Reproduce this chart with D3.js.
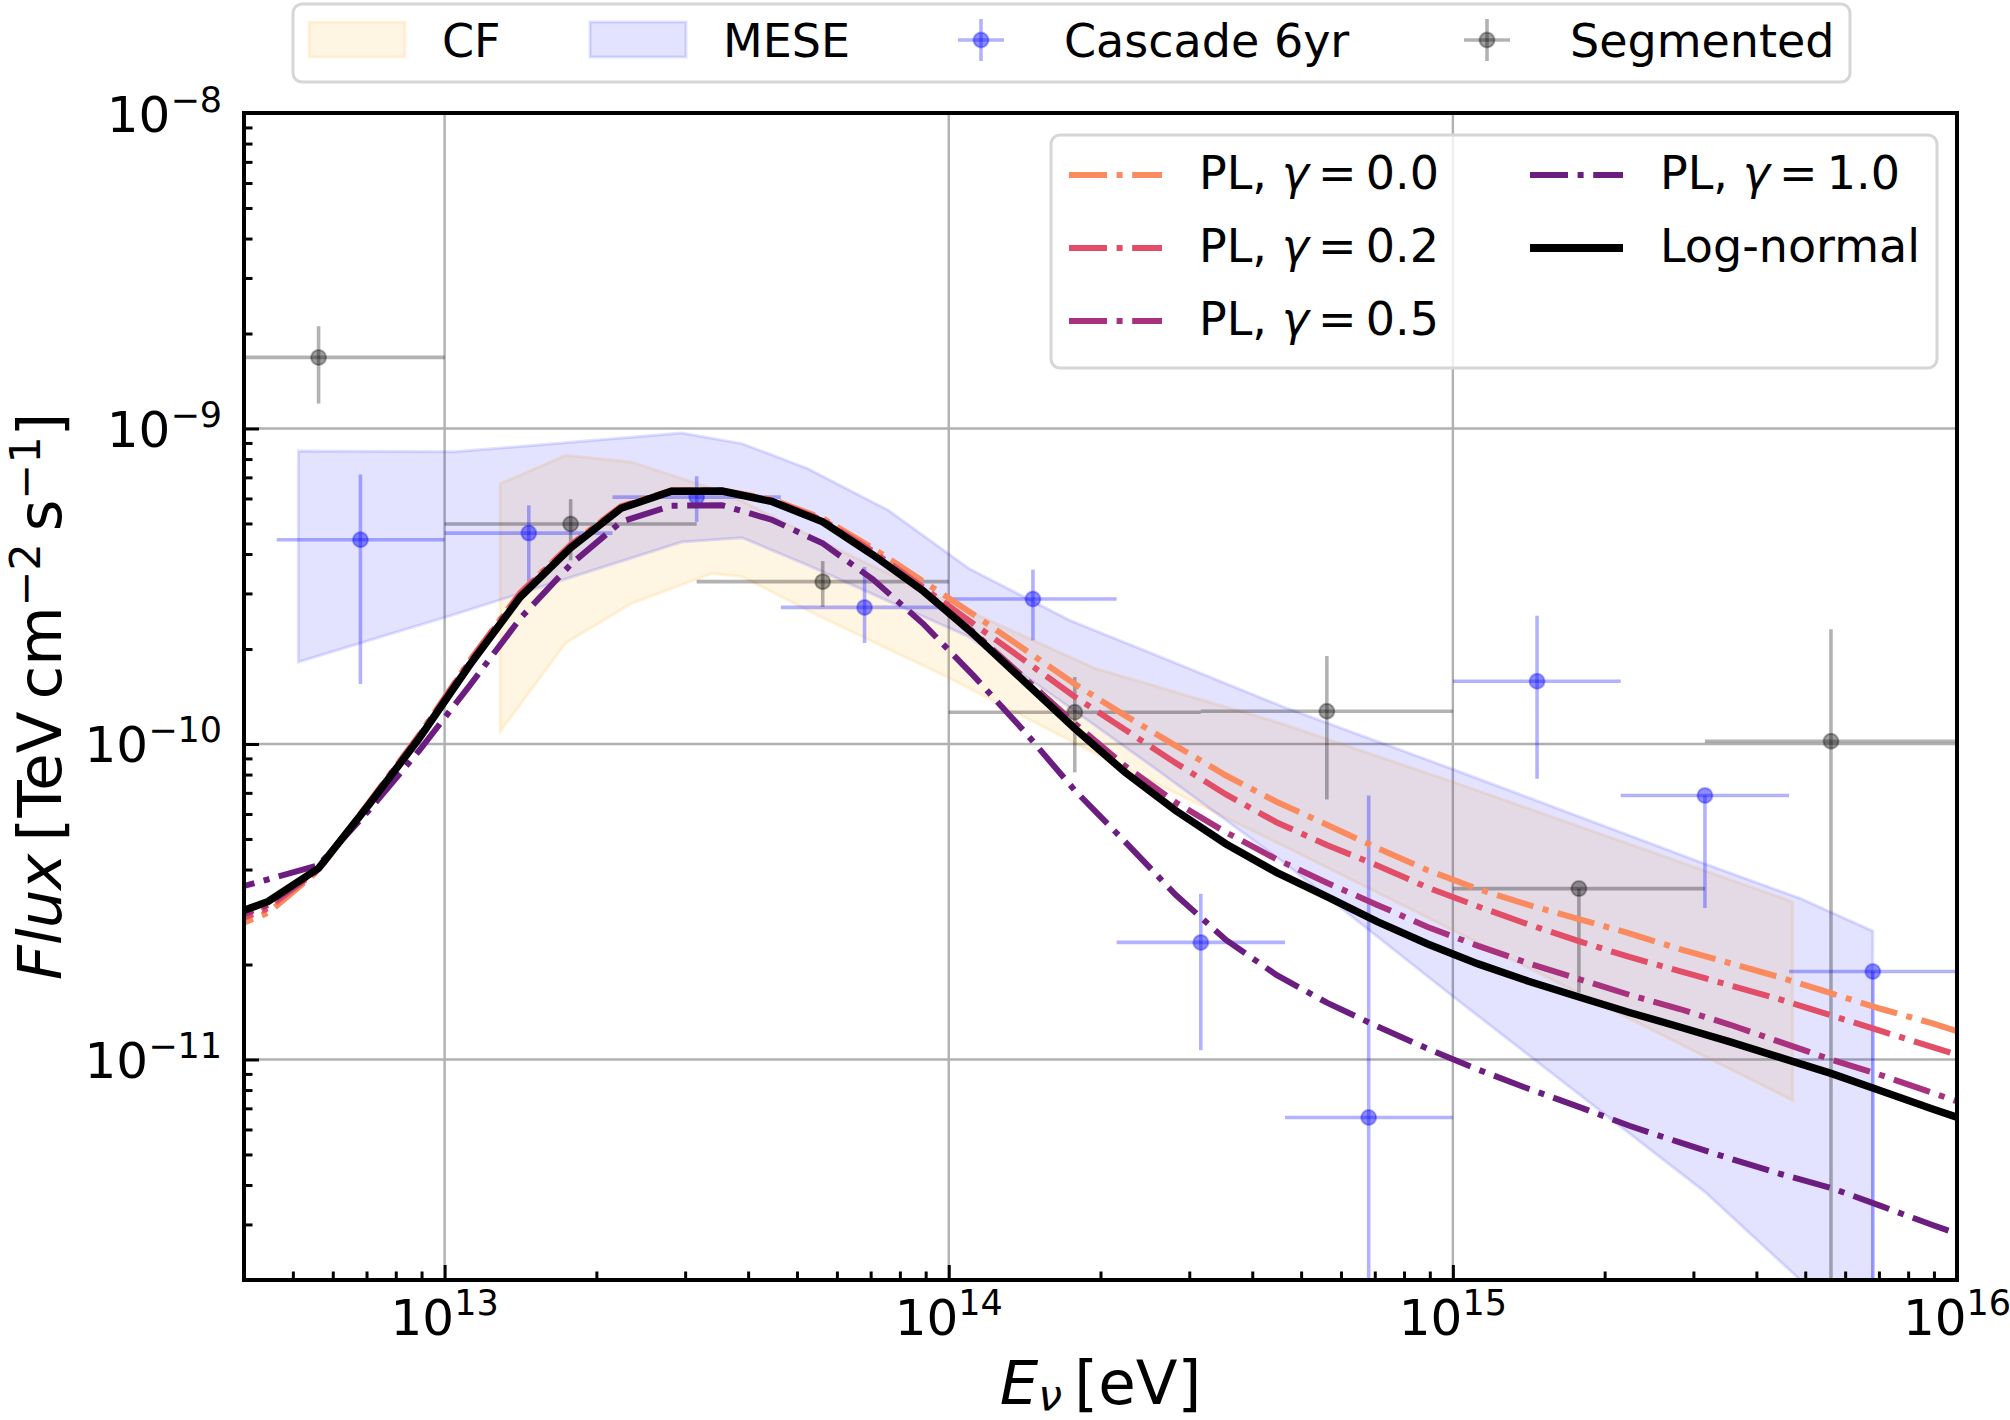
<!DOCTYPE html>
<html>
<head>
<meta charset="utf-8">
<script src="https://cdn.jsdelivr.net/npm/d3@7"></script>
<style>
  body { margin: 0; background: #fff; }
  svg { display: block; font-family: "DejaVu Sans", sans-serif; }
</style>
</head>
<body>
<svg id="chart" width="2010" height="1420"></svg>
<script>
// model curves: log10(E / eV) grid and log10 flux
const modelLogE = [12.55, 12.65, 12.75, 12.85, 12.95, 13.05, 13.15, 13.25, 13.35, 13.45, 13.55, 13.65,
  13.75, 13.85, 13.95, 14.05, 14.15, 14.25, 14.35, 14.45, 14.55, 14.65, 14.75, 14.85,
  14.95, 15.05, 15.15, 15.25, 15.35, 15.45, 15.55, 15.65, 15.75, 15.85, 15.95, 16.05];
const logNormal = [-10.558, -10.499, -10.394, -10.192, -9.981, -9.749, -9.534, -9.378, -9.253, -9.199, -9.198, -9.232,
  -9.296, -9.401, -9.516, -9.653, -9.802, -9.951, -10.090, -10.211, -10.317, -10.407, -10.484, -10.563,
  -10.634, -10.697, -10.752, -10.802, -10.851, -10.897, -10.944, -10.994, -11.044, -11.100, -11.156, -11.210];
const pl00 = [-10.600, -10.535, -10.400, -10.185, -9.970, -9.735, -9.520, -9.368, -9.246, -9.196, -9.196, -9.225,
  -9.285, -9.380, -9.485, -9.590, -9.700, -9.810, -9.910, -10.005, -10.100, -10.183, -10.256, -10.330,
  -10.400, -10.460, -10.510, -10.555, -10.600, -10.650, -10.695, -10.740, -10.790, -10.840, -10.885, -10.935];
const pl02 = [-10.585, -10.520, -10.398, -10.187, -9.973, -9.738, -9.523, -9.370, -9.248, -9.197, -9.197, -9.228,
  -9.290, -9.390, -9.505, -9.620, -9.735, -9.850, -9.955, -10.060, -10.160, -10.248, -10.320, -10.385,
  -10.455, -10.515, -10.572, -10.625, -10.675, -10.720, -10.765, -10.810, -10.860, -10.910, -10.960, -11.010];
const pl05 = [-10.570, -10.510, -10.395, -10.190, -9.978, -9.745, -9.530, -9.375, -9.251, -9.199, -9.198, -9.232,
  -9.296, -9.400, -9.513, -9.647, -9.790, -9.935, -10.070, -10.185, -10.280, -10.365, -10.440, -10.510,
  -10.580, -10.640, -10.695, -10.745, -10.795, -10.840, -10.890, -10.945, -11.000, -11.050, -11.105, -11.160];
const pl10 = [-10.473, -10.429, -10.384, -10.210, -10.020, -9.814, -9.602, -9.431, -9.296, -9.245, -9.243, -9.290,
  -9.364, -9.479, -9.620, -9.785, -9.960, -10.147, -10.310, -10.478, -10.621, -10.732, -10.820, -10.895,
  -10.966, -11.032, -11.093, -11.150, -11.210, -11.263, -11.314, -11.363, -11.407, -11.465, -11.524, -11.580];

// bands (log10 E, log10 flux upper / lower)
const cfLogE = [13.11, 13.24, 13.37, 13.53, 13.59, 13.75, 14.0, 14.29, 14.66, 15.0, 15.674];
const cfUpper = [-9.175, -9.085, -9.106, -9.19, -9.23, -9.36, -9.55, -9.76, -9.935, -10.12, -10.50];
const cfLower = [-9.961, -9.68, -9.555, -9.46, -9.47, -9.60, -9.79, -10.03, -10.32, -10.59, -11.13];
const meseLogE = [12.71, 13.02, 13.47, 13.59, 13.72, 13.88, 14.04, 14.24, 14.42, 14.66, 15.0, 15.5, 15.69, 15.833];
const meseUpper = [-9.071, -9.074, -9.014, -9.048, -9.127, -9.259, -9.444, -9.608, -9.724, -9.88, -10.08, -10.38, -10.49, -10.593];
const meseLower = [-9.740, -9.589, -9.360, -9.346, -9.433, -9.547, -9.66, -9.884, -10.09, -10.37, -10.80, -11.42, -11.70, -11.89];

// data points
const cascadeLogE = [12.833, 13.167, 13.5, 13.833, 14.167, 14.5, 14.833, 15.167, 15.5, 15.833];
const cascadeBinLo = [12.667, 13.0, 13.333, 13.667, 14.0, 14.333, 14.667, 15.0, 15.333, 15.667];
const cascadeBinHi = [13.0, 13.333, 13.667, 14.0, 14.333, 14.667, 15.0, 15.333, 15.667, 16.0];
const cascadeFlux = [4.44e-10, 4.66e-10, 6.06e-10, 2.71e-10, 2.88e-10, 2.35e-11, 6.55e-12, 1.58e-10, 6.87e-11, 1.90e-11];
const cascadeUp = [7.15e-10, 5.71e-10, 7.06e-10, 3.64e-10, 3.57e-10, 3.35e-11, 6.87e-11, 2.55e-10, 6.87e-11, 1.90e-11];
const cascadeDown = [1.55e-10, 3.23e-10, 5.06e-10, 2.09e-10, 2.13e-10, 1.07e-11, 1e-12, 7.76e-11, 3.02e-11, 1e-12];

const segLogE = [12.75, 13.25, 13.75, 14.25, 14.75, 15.25, 15.75];
const segBinLo = [12.5, 13.0, 13.5, 14.0, 14.5, 15.0, 15.5];
const segBinHi = [13.0, 13.5, 14.0, 14.5, 15.0, 15.5, 16.0];
const segFlux = [1.68e-9, 4.98e-10, 3.27e-10, 1.26e-10, 1.27e-10, 3.48e-11, 1.02e-10];
const segUp = [2.11e-9, 5.97e-10, 3.80e-10, 1.63e-10, 1.90e-10, 3.48e-11, 2.31e-10];
const segDown = [1.20e-9, 3.82e-10, 2.72e-10, 8.13e-11, 6.67e-11, 1.63e-11, 1e-12];

// axes
const xDomain = [4e12, 1e16];
const yDomain = [2e-12, 1e-8];
const xMajor = [1e13, 1e14, 1e15, 1e16];
const yMajor = [1e-11, 1e-10, 1e-9, 1e-8];

const p10 = v => Math.pow(10, v);

var svg = d3.select("#chart"),
    plotL = 244, plotR = 1957, plotT = 113, plotB = 1280;

var x = d3.scaleLog().domain(xDomain).range([plotL, plotR]);
var y = d3.scaleLog().domain(yDomain).range([plotB, plotT]);

svg.append("defs").append("clipPath").attr("id", "plot-clip")
  .append("rect").attr("x", plotL).attr("y", plotT).attr("width", plotR - plotL).attr("height", plotB - plotT);

// grid
var grid = svg.append("g").attr("stroke", "#b0b0b0").attr("stroke-width", 2.4);
grid.selectAll("line.gx").data(xMajor.slice(0, 3)).enter().append("line")
  .attr("x1", d => x(d)).attr("x2", d => x(d)).attr("y1", plotT).attr("y2", plotB);
grid.selectAll("line.gy").data(yMajor.slice(0, 3)).enter().append("line")
  .attr("y1", d => y(d)).attr("y2", d => y(d)).attr("x1", plotL).attr("x2", plotR);

var plot = svg.append("g").attr("clip-path", "url(#plot-clip)");

// bands
function band(logE, up, lo, color, fo, so) {
  var pts = logE.map((e, i) => ({ e: p10(e), u: p10(up[i]), l: p10(lo[i]) }));
  var area = d3.area().x(d => x(d.e)).y0(d => y(d.l)).y1(d => y(d.u));
  plot.append("path").datum(pts).attr("d", area)
    .attr("fill", color).attr("fill-opacity", fo)
    .attr("stroke", color).attr("stroke-opacity", so).attr("stroke-width", 3);
}
band(cfLogE, cfUpper, cfLower, "orange", 0.11, 0.13);
band(meseLogE, meseUpper, meseLower, "blue", 0.11, 0.12);

// error bars
function errorbars(logE, binLo, binHi, flux, up, down, color, lineOp, markOp) {
  var g = plot.append("g");
  var rows = logE.map((e, i) => ({ e: p10(e), a: p10(binLo[i]), b: p10(binHi[i]), f: flux[i], u: up[i], d: down[i] }));
  g.selectAll("line.h").data(rows).enter().append("line")
    .attr("x1", d => x(d.a)).attr("x2", d => x(d.b))
    .attr("y1", d => y(d.f)).attr("y2", d => y(d.f))
    .attr("stroke", color).attr("stroke-opacity", lineOp).attr("stroke-width", 3.6);
  g.selectAll("line.v").data(rows).enter().append("line")
    .attr("x1", d => x(d.e)).attr("x2", d => x(d.e))
    .attr("y1", d => y(d.u)).attr("y2", d => y(d.d))
    .attr("stroke", color).attr("stroke-opacity", lineOp).attr("stroke-width", 3.6);
  g.selectAll("circle").data(rows).enter().append("circle")
    .attr("cx", d => x(d.e)).attr("cy", d => y(d.f)).attr("r", 7.5)
    .attr("fill", color).attr("fill-opacity", markOp)
    .attr("stroke", color).attr("stroke-opacity", lineOp).attr("stroke-width", 2);
}
errorbars(segLogE, segBinLo, segBinHi, segFlux, segUp, segDown, "black", 0.3, 0.38);
errorbars(cascadeLogE, cascadeBinLo, cascadeBinHi, cascadeFlux, cascadeUp, cascadeDown, "blue", 0.3, 0.45);

// model lines
var line = d3.line().x(d => x(d[0])).y(d => y(d[1]));
const dashDot = "38,9.6,6,9.6";
var curves = [
  { v: pl00, color: "#fb8a5e", w: 6, dash: dashDot },
  { v: pl02, color: "#e24d68", w: 6, dash: dashDot },
  { v: pl05, color: "#a8327e", w: 6, dash: dashDot },
  { v: pl10, color: "#6b1d80", w: 6, dash: dashDot },
  { v: logNormal, color: "#000", w: 7.5, dash: null }
];
curves.forEach(c => {
  plot.append("path")
    .datum(modelLogE.map((e, i) => [p10(e), p10(c.v[i])]))
    .attr("d", line).attr("fill", "none")
    .attr("stroke", c.color).attr("stroke-width", c.w)
    .attr("stroke-dasharray", c.dash);
});

// ticks (pointing inward)
var xMinor = x.ticks().filter(d => xMajor.indexOf(d) < 0);
var yMinor = y.ticks().filter(d => yMajor.indexOf(d) < 0);
var axes = svg.append("g");
axes.append("g").attr("transform", "translate(0," + plotB + ")")
  .call(d3.axisBottom(x).tickValues(xMajor).tickSize(-15).tickFormat(""));
axes.append("g").attr("transform", "translate(0," + plotB + ")")
  .call(d3.axisBottom(x).tickValues(xMinor).tickSize(-8.5).tickFormat(""));
axes.append("g").attr("transform", "translate(" + plotL + ",0)")
  .call(d3.axisLeft(y).tickValues(yMajor).tickSize(-15).tickFormat(""));
axes.append("g").attr("transform", "translate(" + plotL + ",0)")
  .call(d3.axisLeft(y).tickValues(yMinor).tickSize(-8.5).tickFormat(""));
axes.selectAll(".domain").remove();
axes.selectAll(".tick line").attr("stroke", "#000").attr("stroke-width", 3);

svg.append("rect").attr("x", plotL).attr("y", plotT)
  .attr("width", plotR - plotL).attr("height", plotB - plotT)
  .attr("fill", "none").attr("stroke", "#000").attr("stroke-width", 4);

// text helper: runs of plain / italic / sup / sub text
function runs(text, parts, size, supRaise) {
  var shift = 0, raise = supRaise || 0.4;
  parts.forEach(p => {
    var ts = text.append("tspan").text(p.t);
    var target = p.sup ? -raise * size : (p.sub ? 0.1 * size : 0);
    if (target !== shift) ts.attr("dy", target - shift);
    shift = target;
    if (p.dx) ts.attr("dx", p.dx * size);
    if (p.sup || p.sub) ts.attr("font-size", size * 0.7);
    if (p.it) ts.attr("font-style", "italic");
  });
}
const tickSize = 50;
const expo = v => Math.round(Math.log10(v)).toString().replace("-", "\u2212");

svg.selectAll("text.xt").data(xMajor).enter().append("text")
  .attr("x", d => x(d)).attr("y", plotB + 55).attr("text-anchor", "middle")
  .attr("font-size", tickSize)
  .each(function (d) { runs(d3.select(this), [{ t: "10" }, { t: expo(d), sup: true }], tickSize); });
svg.selectAll("text.yt").data(yMajor).enter().append("text")
  .attr("x", plotL - 22).attr("y", d => y(d) + 18.5).attr("text-anchor", "end")
  .attr("font-size", tickSize)
  .each(function (d) { runs(d3.select(this), [{ t: "10" }, { t: expo(d), sup: true }], tickSize); });

const labelSize = 61;
var xl = svg.append("text").attr("x", (plotL + plotR) / 2).attr("y", 1404)
  .attr("text-anchor", "middle").attr("font-size", labelSize);
runs(xl, [{ t: "E", it: true }, { t: "\u03bd", it: true, sub: true }, { t: "\u2009[eV]" }], labelSize);
var yl = svg.append("text").attr("transform", "translate(61," + ((plotT + plotB) / 2) + ") rotate(-90)")
  .attr("text-anchor", "middle").attr("font-size", labelSize);
runs(yl, [{ t: "Flux", it: true }, { t: "\u2009[TeV\u2009cm" }, { t: "\u22122", sup: true },
  { t: "\u2009s" }, { t: "\u22121", sup: true }, { t: "]" }], labelSize, 0.34);

// top legend (bands and data)
const legSize = 46;
var leg1 = svg.append("g");
leg1.append("rect").attr("x", 293).attr("y", 4).attr("width", 1557).attr("height", 78).attr("rx", 9)
  .attr("fill", "#fff").attr("fill-opacity", 0.8).attr("stroke", "#d6d6d6").attr("stroke-width", 3);
[{ x: 309, color: "orange", label: "CF" }, { x: 590, color: "blue", label: "MESE" }].forEach(p => {
  leg1.append("rect").attr("x", p.x).attr("y", 22).attr("width", 96).attr("height", 35)
    .attr("fill", p.color).attr("fill-opacity", 0.11)
    .attr("stroke", p.color).attr("stroke-opacity", 0.12).attr("stroke-width", 3);
  leg1.append("text").attr("x", p.x + 133).attr("y", 57).attr("font-size", legSize).text(p.label);
});
[{ x: 981, color: "blue", label: "Cascade 6yr", mo: 0.45 }, { x: 1487, color: "black", label: "Segmented", mo: 0.38 }].forEach(p => {
  leg1.append("line").attr("x1", p.x - 23).attr("x2", p.x + 23).attr("y1", 40).attr("y2", 40)
    .attr("stroke", p.color).attr("stroke-opacity", 0.3).attr("stroke-width", 3.6);
  leg1.append("line").attr("x1", p.x).attr("x2", p.x).attr("y1", 19).attr("y2", 61)
    .attr("stroke", p.color).attr("stroke-opacity", 0.3).attr("stroke-width", 3.6);
  leg1.append("circle").attr("cx", p.x).attr("cy", 40).attr("r", 7.5)
    .attr("fill", p.color).attr("fill-opacity", p.mo)
    .attr("stroke", p.color).attr("stroke-opacity", 0.3).attr("stroke-width", 2);
  leg1.append("text").attr("x", p.x + 83).attr("y", 57).attr("font-size", legSize).text(p.label);
});

// inner legend (models)
var leg2 = svg.append("g");
leg2.append("rect").attr("x", 1051).attr("y", 135).attr("width", 886).attr("height", 233).attr("rx", 9)
  .attr("fill", "#fff").attr("fill-opacity", 0.8).attr("stroke", "#d6d6d6").attr("stroke-width", 3);
var legItems = [
  { col: 0, row: 0, c: curves[0], g: "0.0" },
  { col: 0, row: 1, c: curves[1], g: "0.2" },
  { col: 0, row: 2, c: curves[2], g: "0.5" },
  { col: 1, row: 0, c: curves[3], g: "1.0" },
  { col: 1, row: 1, c: curves[4], g: null }
];
legItems.forEach(it => {
  var hx = it.col ? 1530 : 1069, ty = 175 + it.row * 73;
  leg2.append("line").attr("x1", hx).attr("x2", hx + 93).attr("y1", ty).attr("y2", ty)
    .attr("stroke", it.c.color).attr("stroke-width", it.c.dash ? 6 : 8)
    .attr("stroke-dasharray", it.c.dash);
  var t = leg2.append("text").attr("x", hx + 130).attr("y", ty + 14).attr("font-size", legSize);
  if (it.g) runs(t, [{ t: "PL, " }, { t: "\u03b3", it: true }, { t: "=", dx: 0.2 }, { t: it.g, dx: 0.2 }], legSize);
  else t.text("Log-normal");
});
</script>
</body>
</html>
